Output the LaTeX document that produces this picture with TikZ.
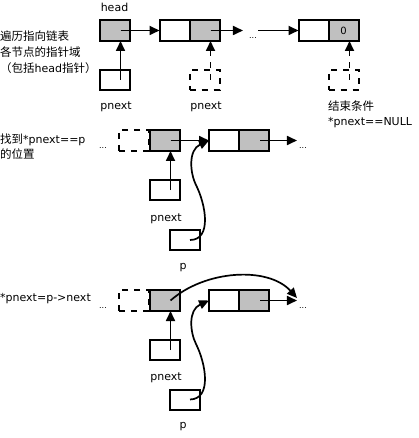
\documentclass[tikz,border=0pt]{standalone}
\usepackage{fontspec}
\setmainfont{DejaVu Sans}
\newfontfamily\cjk{Noto Sans CJK SC}
\usetikzlibrary{arrows.meta,calc}
\newcommand\zh[1]{{\cjk\fontsize{11.5}{13}\selectfont #1}}
\definecolor{cellgray}{HTML}{C0C0C0}
\begin{document}
\begin{tikzpicture}[x=1pt,y=-1pt,
  txt/.style={inner sep=0pt,font=\fontsize{11}{13}\selectfont},
  dots/.style={inner sep=0pt,font=\fontsize{8}{9}\selectfont},
  cell/.style={draw,line width=2pt,minimum width=30pt,minimum height=21pt,inner sep=0pt,outer sep=0pt,font=\fontsize{10}{12}\selectfont},
  gcell/.style={cell,fill=cellgray},
  ptr/.style={draw,line width=2pt,minimum width=30pt,minimum height=20pt,inner sep=0pt,outer sep=0pt},
  dptr/.style={ptr,dash pattern=on 6pt off 6pt},
  arr/.style={line width=1.7pt,-{Triangle[length=10pt,width=9pt]}},
  darr/.style={arr,dash pattern=on 6pt off 6pt}]
\useasboundingbox (0,0) rectangle (418,438);

% ---------- texts on the left ----------
\node[txt,anchor=base west] (t1) at (0,41) {\zh{遍历指向链表}};
\node[txt,anchor=base west] (t2) at (0,56.5) {\zh{各节点的指针域}};
\node[txt,anchor=base west] (t3) at (0,72.5) {\zh{（包括}head\zh{指针）}};
\node[txt,anchor=base west] (t4) at (0,143.5) {\zh{找到}*pnext==p};
\node[txt,anchor=base west] (t5) at (0,159) {\zh{的位置}};
\node[txt,anchor=base west] (t6) at (0,301.5) {*pnext=p->next};

% ---------- row 1 ----------
\node[gcell] (head) at (114.5,30.5) {};
\node[txt,anchor=base] (headl) at (114.5,12) {head};
\node[cell] (a1) at (174.5,30.5) {};
\node[gcell] (a2) at (204.5,30.5) {};
\node[dots] (d1) at (253,38) {...};
\node[cell] (z1) at (313.5,30.5) {};
\node[gcell] (z2) at (343.5,30.5) {0};
\node[ptr] (pn1) at (114.5,80) {};
\node[txt,anchor=base] (pn1l) at (116,110) {pnext};
\node[dptr] (dp1) at (204.5,80) {};
\node[txt,anchor=base] (dp1l) at (206,110) {pnext};
\node[dptr] (dp2) at (343.5,80) {};
\node[txt,anchor=base west] (endl1) at (328,111) {\zh{结束条件}};
\node[txt,anchor=base west] (endl2) at (328,126) {*pnext==NULL};

\draw[arr] ($(head.center)+(6,0)$) -- (a1.west);
\draw[arr] ($(a2.center)+(6,0)$) -- ($(d1.west)+(-6,-7.5)$);
\draw[arr] ($(d1.east)+(1,-7.5)$) -- (z1.west);
\draw[arr] ($(pn1.center)+(6,0)$) -- ($(head.south)+(6,0)$);
\draw[darr] ($(dp1.center)+(6,0)$) -- ($(a2.south)+(6,0)$);
\draw[darr] ($(dp2.center)+(6,0)$) -- ($(z2.south)+(6,0)$);

% ---------- row 2 ----------
\node[dots] (d2) at (103,148) {...};
\node[dptr,minimum height=21pt] (b0) at (134,140.5) {};
\node[gcell] (b1) at (164.5,140.5) {};
\node[cell] (b2) at (224,140.5) {};
\node[gcell] (b3) at (254,140.5) {};
\node[dots] (d3) at (303,148) {...};
\node[ptr] (pn2) at (164.5,190) {};
\node[txt,anchor=base] (pn2l) at (166,221) {pnext};
\node[ptr] (p2) at (185,240) {};
\node[txt,anchor=base] (p2l) at (183,269) {p};

\draw[arr] ($(b1.center)+(6,0)$) -- (b2.west);
\draw[arr] ($(b3.center)+(6,0)$) -- ($(d3.west)+(-2,-7.5)$);
\draw[arr] ($(pn2.center)+(6,0)$) -- ($(b1.south)+(6,0)$);
\draw[arr] ($(p2.center)+(5,0)$) .. controls (212,240) and (206,205) .. (196,185)
  .. controls (190,173) and (188,150) .. (b2.west);

% ---------- row 3 ----------
\node[dots] (d4) at (103,308) {...};
\node[dptr,minimum height=21pt] (c0) at (134,300.5) {};
\node[gcell] (c1) at (164.5,300.5) {};
\node[cell] (c2) at (224,300.5) {};
\node[gcell] (c3) at (254,300.5) {};
\node[dots] (d5) at (303,308) {...};
\coordinate (ce) at ($(d5.west)+(-2,-10)$);
\node[ptr] (pn3) at (164.5,350) {};
\node[txt,anchor=base] (pn3l) at (166,380) {pnext};
\node[ptr] (p3) at (185,399.5) {};
\node[txt,anchor=base] (p3l) at (183,428) {p};

\draw[arr] ($(c3.center)+(6,0)$) -- ($(d5.west)+(-2,-7.5)$);
\draw[arr] ($(pn3.center)+(6,0)$) -- ($(c1.south)+(6,0)$);
\draw[arr] ($(c1.center)+(6,0)$) .. controls (205,270) and (268,266) .. (ce);
\draw[arr] ($(p3.center)+(5,0)$) .. controls (212,399) and (206,364) .. (196,344)
  .. controls (190,332) and (188,310) .. (c2.west);
\end{tikzpicture}
\end{document}
